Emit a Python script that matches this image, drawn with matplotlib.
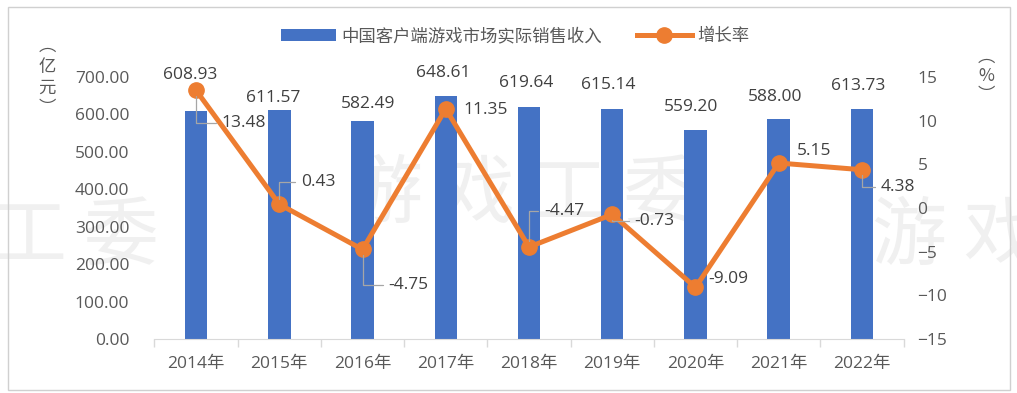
import matplotlib
matplotlib.use("Agg")
import matplotlib.pyplot as plt
import numpy as np
from matplotlib.patches import Rectangle

plt.rcParams["font.family"] = ["Open Sans", "Noto Sans CJK SC", "DejaVu Sans"]

years = ["2014年", "2015年", "2016年", "2017年", "2018年", "2019年", "2020年", "2021年", "2022年"]
revenue = [608.93, 611.57, 582.49, 648.61, 619.64, 615.14, 559.20, 588.00, 613.73]
growth = [13.48, 0.43, -4.75, 11.35, -4.47, -0.73, -9.09, 5.15, 4.38]

BLUE = "#4472C4"
ORANGE = "#ED7D31"
TEXT = "#595959"
GRID = "#D9D9D9"

# label centre offsets in pixels (dx, dy), dy positive = up
bar_offsets = [(-6, 36), (-6, 12), (6, 17), (-3, 23), (-3, 24), (-4, 24), (-4, 23), (-4, 22), (-4, 23)]
line_offsets = [(48, -33), (39, 22), (46, -36), (40, -1), (35, 36), (42, -7), (33, 8), (35, 12), (36, -17)]
leader = [True, True, True, False, True, True, False, False, True]

W, H = 1017, 393
fig = plt.figure(figsize=(W / 100, H / 100), dpi=100)

# watermark, behind everything
wm = dict(color="#F0F0F0", fontsize=54, ha="center", va="center", zorder=-5,
          family=["Noto Sans CJK SC"])
fig.text(75 / W, 1 - 237 / H, "工 委", **wm)
fig.text(523 / W, 1 - 195 / H, "游 戏 工 委", **wm)
fig.text(955 / W, 1 - 237 / H, "游 戏", **wm)

fig.patches.append(Rectangle((8 / W, 1 - 390 / H), 1002 / W, 383 / H, transform=fig.transFigure,
                             fill=False, edgecolor="#D0D0D0", linewidth=1.0))

ax = fig.add_axes([154.4 / W, 1 - 339 / H, 749.2 / W, 262 / H])
ax.set_zorder(1)
ax.patch.set_alpha(0)
x = np.arange(len(years))
ax.bar(x, revenue, width=0.27, color=BLUE, zorder=2, label="中国客户端游戏市场实际销售收入")
ax.set_xlim(-0.5, len(years) - 0.5)
ax.set_ylim(0, 700)
ax.set_yticks(np.arange(0, 701, 100))
ax.set_yticklabels([f"{v:.2f}" for v in np.arange(0, 701, 100)])
ax.set_xticks(x)
ax.set_xticklabels(years)
ax.set_xticks(np.arange(-0.5, len(years), 1), minor=True)
ax.tick_params(axis="x", which="major", length=0, pad=12, labelsize=12.5, labelcolor=TEXT)
ax.tick_params(axis="x", which="minor", length=6, color=GRID, width=1)
ax.tick_params(axis="y", length=0, pad=18, labelsize=12.5, labelcolor=TEXT)
for s in ("top", "left", "right"):
    ax.spines[s].set_visible(False)
ax.spines["bottom"].set_color(GRID)

for xi, v, (dx, dy) in zip(x, revenue, bar_offsets):
    ax.annotate(f"{v:.2f}", (xi, v), xytext=(dx, dy), textcoords="offset pixels",
                ha="center", va="center", fontsize=12.5, color="#404040", zorder=5)

ax2 = ax.twinx()
ax2.set_zorder(2)
ax2.patch.set_alpha(0)
ax2.plot(x, growth, color=ORANGE, lw=3.6, marker="o", ms=11, zorder=4, label="增长率")
ax2.set_ylim(-15, 15)
ax2.set_yticks(np.arange(-15, 16, 5))
ax2.tick_params(axis="y", length=0, pad=10, labelsize=12.5, labelcolor=TEXT)
for s in ax2.spines.values():
    s.set_visible(False)

for xi, v, (dx, dy), ld in zip(x, growth, line_offsets, leader):
    kw = {}
    if ld:
        kw["arrowprops"] = dict(arrowstyle="-", color="#A6A6A6", lw=0.9, shrinkA=2, shrinkB=4,
                                connectionstyle="angle,angleA=0,angleB=90,rad=0")
    ax2.annotate(f"{v:.2f}", (xi, v), xytext=(dx, dy), textcoords="offset pixels",
                 ha="center", va="center", fontsize=12.5, color="#404040", zorder=6, **kw)

# axis unit labels (vertical)
fig.text(47 / W, 1 - 77 / H, "︵\n亿\n元\n︶", ha="center", va="center", fontsize=12.5,
         color=TEXT, linespacing=1.2, family=["Noto Sans CJK SC"])
fig.text(986 / W, 1 - 76 / H, "︵\n%\n︶", ha="center", va="center", fontsize=12.5,
         color=TEXT, linespacing=1.1, family=["Noto Sans CJK SC"])

h1, l1 = ax.get_legend_handles_labels()
h2, l2 = ax2.get_legend_handles_labels()
fig.legend(h1 + h2, l1 + l2, loc="center", bbox_to_anchor=(515 / W, 1 - 37 / H), ncol=2,
           frameon=False, fontsize=12.5, labelcolor=TEXT, handlelength=3.2, handletextpad=0.3,
           columnspacing=2.0)

fig.savefig("out.png", dpi=100)
